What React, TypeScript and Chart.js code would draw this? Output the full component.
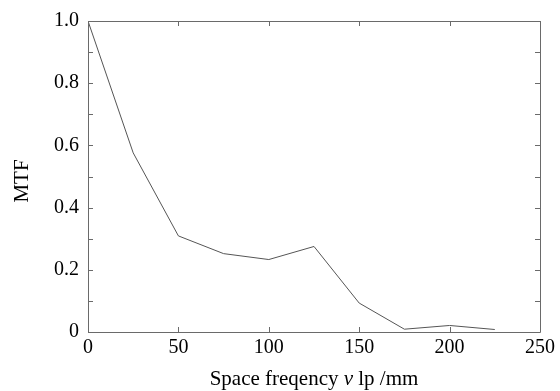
import React, { useEffect, useRef } from "react";
import { Chart, registerables } from "chart.js";

Chart.register(...registerables);

const frequencies = [0, 25, 50, 75, 100, 125, 150, 175, 200, 225];
const mtfValues = [1.0, 0.576, 0.309, 0.252, 0.233, 0.275, 0.093, 0.009, 0.021, 0.008];
const xTicks = [0, 50, 100, 150, 200, 250];
const yTicks = [0, 0.1, 0.2, 0.3, 0.4, 0.5, 0.6, 0.7, 0.8, 0.9, 1.0];
const yLabelTicks = [0, 0.2, 0.4, 0.6, 0.8, 1.0];
const xTitleParts = ["Space freqency ", "v", " lp /mm"];
const yTitle = "MTF";

const FONT = "'Liberation Serif', 'Times New Roman', serif";

const framePlugin = {
  id: "framePlugin",
  afterDraw(chart: any) {
    const { ctx, chartArea } = chart;
    const xs = chart.scales.x;
    const ys = chart.scales.y;
    const { left, right, top, bottom } = chartArea;
    ctx.save();
    ctx.strokeStyle = "#6a6a6a";
    ctx.lineWidth = 1;
    ctx.beginPath();
    ctx.rect(Math.round(left) + 0.5, Math.round(top) + 0.5, Math.round(right - left), Math.round(bottom - top));
    ctx.stroke();
    const tl = 5;
    ctx.beginPath();
    xTicks.forEach((v) => {
      const px = Math.round(xs.getPixelForValue(v)) + 0.5;
      ctx.moveTo(px, bottom);
      ctx.lineTo(px, bottom - tl);
      ctx.moveTo(px, top);
      ctx.lineTo(px, top + tl);
    });
    yTicks.forEach((v) => {
      const py = Math.round(ys.getPixelForValue(v)) + 0.5;
      ctx.moveTo(left, py);
      ctx.lineTo(left + tl, py);
      ctx.moveTo(right, py);
      ctx.lineTo(right - tl, py);
    });
    ctx.stroke();

    // x title with italic v
    ctx.fillStyle = "#000";
    ctx.textBaseline = "alphabetic";
    const fonts = [`21px ${FONT}`, `italic 21px ${FONT}`, `21px ${FONT}`];
    let total = 0;
    const widths = xTitleParts.map((p, i) => {
      ctx.font = fonts[i];
      const w = ctx.measureText(p).width;
      total += w;
      return w;
    });
    let x = (left + right) / 2 - total / 2;
    const yBase = 385;
    xTitleParts.forEach((p, i) => {
      ctx.font = fonts[i];
      ctx.textAlign = "left";
      ctx.fillText(p, x, yBase);
      x += widths[i];
    });

    // y title
    ctx.save();
    ctx.translate(28, 181);
    ctx.rotate(-Math.PI / 2);
    ctx.font = `21px ${FONT}`;
    ctx.textAlign = "center";
    ctx.textBaseline = "alphabetic";
    ctx.fillText(yTitle, 0, 0);
    ctx.restore();
    ctx.restore();
  },
};

export default function App() {
  const ref = useRef<HTMLCanvasElement | null>(null);
  useEffect(() => {
    if (!ref.current) return;
    const chart = new Chart(ref.current, {
      type: "line",
      data: {
        datasets: [
          {
            data: frequencies.map((f, i) => ({ x: f, y: mtfValues[i] })),
            borderColor: "#555555",
            borderWidth: 1,
            pointRadius: 0,
            tension: 0,
            fill: false,
          },
        ],
      },
      options: {
        animation: false,
        responsive: true,
        maintainAspectRatio: false,
        layout: { padding: { top: 18, right: 20, left: 0, bottom: 0 } },
        plugins: { legend: { display: false }, tooltip: { enabled: false } },
        scales: {
          x: {
            type: "linear",
            min: 0,
            max: 250,
            afterBuildTicks: (s: any) => {
              s.ticks = xTicks.map((v) => ({ value: v }));
            },
            afterFit: (s: any) => {
              s.height = 59;
            },
            grid: { display: false, drawTicks: false },
            border: { display: false },
            ticks: {
              color: "#000",
              padding: 4,
              maxRotation: 0,
              autoSkip: false,
              font: { family: FONT, size: 20 },
              callback: (v: any) => String(v),
            },
          },
          y: {
            type: "linear",
            min: 0,
            max: 1,
            afterBuildTicks: (s: any) => {
              s.ticks = yLabelTicks.map((v) => ({ value: v }));
            },
            afterFit: (s: any) => {
              s.width = 88;
            },
            grid: { display: false, drawTicks: false },
            border: { display: false },
            ticks: {
              color: "#000",
              padding: 9,
              autoSkip: false,
              font: { family: FONT, size: 20 },
              callback: (v: any) => (v === 0 ? "0" : Number(v).toFixed(1)),
            },
          },
        },
      },
      plugins: [framePlugin],
    });
    return () => chart.destroy();
  }, []);
  return (
    <div style={{ position: "absolute", left: 0, top: 0, width: 560, height: 391, background: "#fff" }}>
      <canvas ref={ref} />
    </div>
  );
}
